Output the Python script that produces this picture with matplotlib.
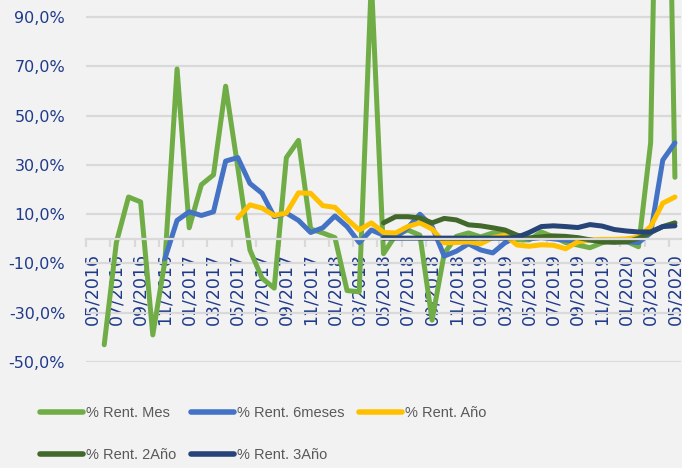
import numpy as np
import matplotlib
matplotlib.use('Agg')
import matplotlib.pyplot as plt
from matplotlib.ticker import FixedLocator

nan = np.nan

# monthly categories 05/2016 .. 05/2020
months = ['05/2016', '06/2016', '07/2016', '08/2016', '09/2016', '10/2016', '11/2016', '12/2016',
          '01/2017', '02/2017', '03/2017', '04/2017', '05/2017', '06/2017', '07/2017', '08/2017',
          '09/2017', '10/2017', '11/2017', '12/2017', '01/2018', '02/2018', '03/2018', '04/2018',
          '05/2018', '06/2018', '07/2018', '08/2018', '09/2018', '10/2018', '11/2018', '12/2018',
          '01/2019', '02/2019', '03/2019', '04/2019', '05/2019', '06/2019', '07/2019', '08/2019',
          '09/2019', '10/2019', '11/2019', '12/2019', '01/2020', '02/2020', '03/2020', '04/2020',
          '05/2020']

# values in %
rent_mes = [nan, -43, -1.5, 17, 15, -39, -9, 69, 4.5, 22, 26, 62,
            29, -4.5, -16, -20, 33, 40, 4, 2.4, 0.5, -21, -21.5, 105,
            -6, 1.5, 3.6, 1.5, -33, -6, 1, 2.4, 0.8, 2.4, 2, -0.4,
            -0.4, 2.8, 0.8, -1.5, -2.5, -3.6, -1.6, -0.4, -1, -3.2, 39, 300,
            25]
rent_6m = [nan, nan, nan, nan, nan, nan, -8, 7.5, 11, 9.5, 11, 31.6,
           33, 22.5, 18.5, 9, 10.5, 7.5, 2.6, 4.5, 9.3, 5, -1.5, 3.6,
           1.5, 0.5, 4.5, 10, 5, -7, -5, -2, -4.5, -5.7, -1.6, 1,
           0, 0.5, 0, -0.5, -1, -0.5, -1, -1, -1.2, -1.5, 2.4, 32,
           39]
rent_ano = [nan] * 12 + [8.5, 13.8, 12.5, 9.5, 10.5, 18.7, 18.5, 13.5, 12.8, 8, 3.6, 6.5,
                         2.6, 2.4, 5, 6.5, 4, -1.6, -1.5, -1.2, -2, 0.5, 1.5, -2.5,
                         -3, -2.4, -2.6, -4, -1.2, -0.4, -0.2, -0.2, 0, 0.8, 5, 14.5,
                         17]
rent_2ano = [nan] * 24 + [6.5, 9, 9, 8.5, 6.5, 8.3, 7.7, 5.7, 5.3, 4.5, 3.6, 1.5,
                          0.4, 0.8, 1.2, 1.0, 0.5, -0.4, -1.2, -1.4, -1.2, 0.2, 2.6, 5,
                          6.5]
rent_3ano = [nan] * 24 + [0.3, 0.3, 0.3, 0.3, 0.3, 0.3, 0.3, 0.3, 0.3, 0.3, 0.3, 0.6,
                          2.6, 5, 5.3, 5, 4.6, 5.8, 5.2, 3.8, 3.2, 2.8, 2.8, 5,
                          5.3]

series = [('% Rent. Mes', rent_mes, '#70AD47'),
          ('% Rent. 6meses', rent_6m, '#4472C4'),
          ('% Rent. Año', rent_ano, '#FFC000'),
          ('% Rent. 2Año', rent_2ano, '#43682B'),
          ('% Rent. 3Año', rent_3ano, '#264478')]

yticks = [-50, -30, -10, 10, 30, 50, 70, 90]

BG = '#F2F2F2'
GRID = '#D9D9D9'
TXT = '#1F3A8A'

fig = plt.figure(figsize=(6.82, 4.68), dpi=100, facecolor=BG)
ax = fig.add_axes([86 / 682, 1 - 362 / 468, 595 / 682, 362 / 468])
ax.set_facecolor(BG)

x = np.arange(len(months))
lines = []
for name, vals, col in series:
    ln, = ax.plot(x, vals, color=col, lw=3.6, label=name,
                  solid_capstyle='round', solid_joinstyle='round')
    lines.append(ln)

ax.set_xlim(-0.5, len(months) - 0.5)
ax.set_ylim(-50, 97)

# gridlines
ax.set_yticks(yticks)
ax.set_yticklabels([f'{v:.1f}%'.replace('.', ',') for v in yticks])
ax.yaxis.grid(True, color=GRID, lw=1.6)
ax.set_axisbelow(True)
ax.tick_params(axis='y', length=0, labelsize=11.5, labelcolor=TXT, pad=15)

# category axis through zero
for s in ['top', 'right', 'left']:
    ax.spines[s].set_visible(False)
ax.spines['bottom'].set_position(('data', 0))
ax.spines['bottom'].set_color(GRID)
ax.spines['bottom'].set_linewidth(1.6)
ax.set_xticks(x[::2])
ax.set_xticklabels(months[::2], rotation=90)
ax.xaxis.set_minor_locator(FixedLocator(x[::2] - 0.5))
ax.tick_params(axis='x', which='major', length=0, labelsize=12.5, labelcolor=TXT, pad=10)
ax.tick_params(axis='x', which='minor', length=6, width=1.6, color=GRID)

# legend filled row by row (matplotlib fills columns)
order = [0, 3, 1, 4, 2]
leg = fig.legend([lines[i] for i in order], [series[i][0] for i in order],
                 loc='upper left', bbox_to_anchor=(27 / 682, 1 - 393 / 468), ncol=3,
                 frameon=False, handlelength=2.95, handletextpad=0.2, columnspacing=1.0,
                 labelspacing=1.9, prop={'family': 'Liberation Sans', 'size': 10.5})
for t in leg.get_texts():
    t.set_color('#595959')
for h in leg.get_lines():
    h.set_linewidth(4)

fig.savefig('out.png', dpi=100, facecolor=BG)
